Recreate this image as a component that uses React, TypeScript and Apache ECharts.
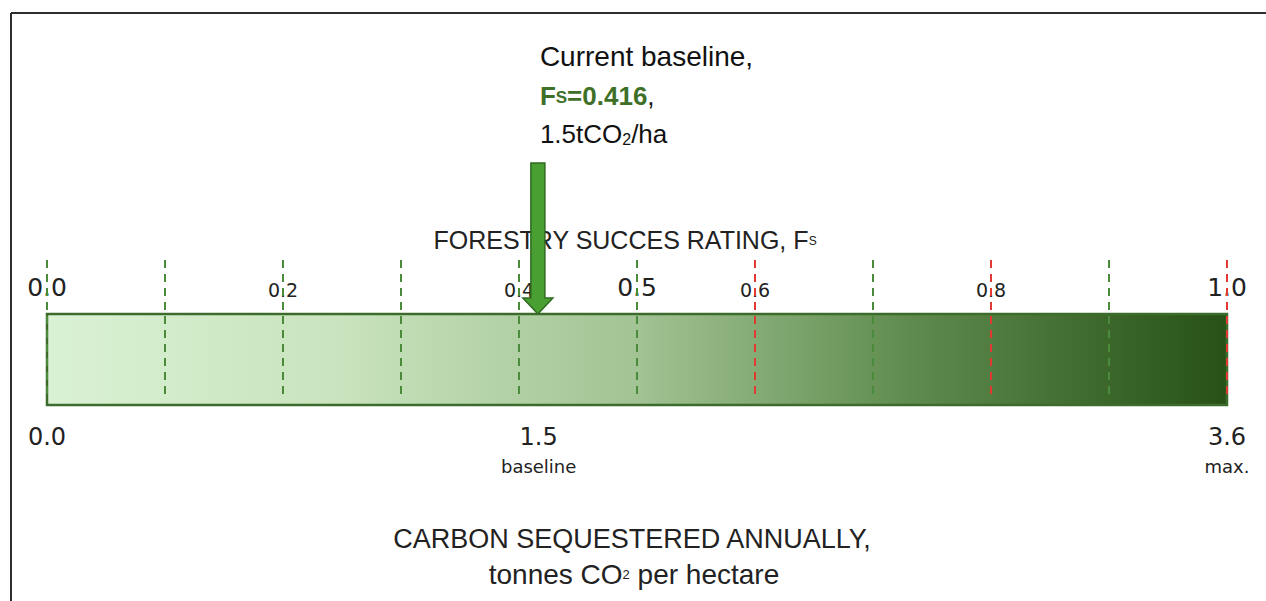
import React, { useEffect, useRef } from "react";
import * as echarts from "echarts";

// ---- data ----
const ratingTicks = [0, 0.1, 0.2, 0.3, 0.4, 0.5, 0.6, 0.7, 0.8, 0.9, 1.0];
const redTicks = [0.6, 0.8, 1.0];
const bigRatingLabels = [0, 0.5, 1.0];
const smallRatingLabels = [0.2, 0.4, 0.6, 0.8];
const ratingMin = 0;
const ratingMax = 1.0;
const carbonTicks = [0, 1.5, 3.6];
const carbonNotes = ["", "baseline", "max."];
const carbonMax = 3.6;
const baselineRating = 0.416;
const baselineCarbon = 1.5;

const near = (a: number, arr: number[]) => arr.some((b) => Math.abs(a - b) < 1e-6);

const NUM_FONT = "DejaVu Sans";
const TXT_FONT = "Liberation Sans, Arial, sans-serif";

export default function App() {
  const ref = useRef<HTMLDivElement>(null);

  useEffect(() => {
    if (!ref.current) return;
    document.body.style.margin = "0";
    document.body.style.overflow = "hidden";
    const chart = echarts.init(ref.current, undefined, { renderer: "svg" });

    const barGradient = new echarts.graphic.LinearGradient(0, 0, 1, 0, [
      { offset: 0, color: "#daf2d4" },
      { offset: 0.25, color: "#c8e3bd" },
      { offset: 0.5, color: "#a2c394" },
      { offset: 0.73, color: "#5f8c4e" },
      { offset: 1, color: "#275116" },
    ]);

    const option: any = {
      animation: false,
      backgroundColor: "#ffffff",
      grid: { left: 47, right: 39, top: 314, bottom: 196, containLabel: false },
      xAxis: [
        {
          type: "value",
          position: "top",
          min: ratingMin,
          max: ratingMax,
          interval: 0.1,
          axisLine: { show: false },
          axisTick: { show: false },
          splitLine: { show: false },
          axisLabel: {
            margin: 14,
            formatter: (v: number) => {
              if (near(v, bigRatingLabels)) return `{big|${v.toFixed(1)}}`;
              if (near(v, smallRatingLabels)) return `{small|${v.toFixed(1)}}`;
              return "";
            },
            rich: {
              big: { fontFamily: NUM_FONT, fontSize: 25, lineHeight: 26, color: "#222" },
              small: { fontFamily: NUM_FONT, fontSize: 19, lineHeight: 20, color: "#222" },
            },
          },
        },
        {
          type: "value",
          position: "bottom",
          min: 0,
          max: carbonMax,
          axisLine: { show: false },
          axisTick: { show: false },
          splitLine: { show: false },
          axisLabel: {
            customValues: carbonTicks,
            margin: 17,
            formatter: (v: number) => {
              const i = carbonTicks.findIndex((t) => Math.abs(t - v) < 1e-6);
              const note = i >= 0 ? carbonNotes[i] : "";
              return note ? `{n|${v.toFixed(1)}}\n{s|${note}}` : `{n|${v.toFixed(1)}}`;
            },
            rich: {
              n: { fontFamily: NUM_FONT, fontSize: 24, lineHeight: 30, color: "#222" },
              s: { fontFamily: NUM_FONT, fontSize: 18, lineHeight: 28, color: "#222" },
            },
          },
        },
      ],
      yAxis: { type: "value", min: 0, max: 1, show: false },
      graphic: [
        { type: "line", shape: { x1: 11, y1: 13, x2: 1266, y2: 13 }, style: { stroke: "#2e2e2e", lineWidth: 2 } },
        { type: "line", shape: { x1: 11, y1: 13, x2: 11, y2: 601 }, style: { stroke: "#2e2e2e", lineWidth: 2 } },
        {
          type: "text",
          x: 625,
          y: 252,
          style: {
            text: "{t|FORESTRY SUCCES RATING, F}{s|S}",
            align: "center",
            verticalAlign: "bottom",
            rich: {
              t: { fontFamily: TXT_FONT, fontSize: 25, lineHeight: 28, fill: "#222", verticalAlign: "bottom" },
              s: { fontFamily: TXT_FONT, fontSize: 12, lineHeight: 14, fill: "#222", verticalAlign: "bottom", padding: [0, 0, 5, 0] },
            },
          },
        },
        {
          type: "text",
          x: 632,
          y: 552,
          style: {
            text: "CARBON SEQUESTERED ANNUALLY,",
            align: "center",
            verticalAlign: "bottom",
            fontFamily: TXT_FONT,
            fontSize: 27,
            fill: "#222",
          },
        },
        {
          type: "text",
          x: 634,
          y: 588,
          style: {
            text: "{t|tonnes CO}{s|2}{t| per hectare}",
            align: "center",
            verticalAlign: "bottom",
            rich: {
              t: { fontFamily: TXT_FONT, fontSize: 28, lineHeight: 32, fill: "#222", verticalAlign: "bottom" },
              s: { fontFamily: TXT_FONT, fontSize: 13, lineHeight: 14, fill: "#222", verticalAlign: "bottom", padding: [0, 0, 7, 0] },
            },
          },
        },
      ],
      series: [
        {
          type: "custom",
          name: "rating bar",
          xAxisIndex: 0,
          yAxisIndex: 0,
          clip: false,
          data: [[ratingMin, ratingMax]],
          renderItem: (params: any, api: any) => {
            const p0 = api.coord([api.value(0), 1]);
            const p1 = api.coord([api.value(1), 0]);
            return {
              type: "rect",
              shape: { x: p0[0], y: p0[1], width: p1[0] - p0[0], height: p1[1] - p0[1] },
              style: { fill: barGradient, stroke: "#3c6b2c", lineWidth: 2.5 },
            };
          },
          z: 1,
        },
        {
          type: "custom",
          name: "rating ticks",
          xAxisIndex: 0,
          yAxisIndex: 0,
          clip: false,
          data: ratingTicks.map((v) => [v]),
          renderItem: (params: any, api: any) => {
            const v = api.value(0);
            const top = api.coord([v, 1]);
            const bot = api.coord([v, 0]);
            const red = near(v, redTicks);
            return {
              type: "line",
              shape: { x1: top[0], y1: top[1] - 54, x2: top[0], y2: bot[1] - 8 },
              style: { stroke: red ? "#e23a32" : "#4b8a3b", lineWidth: 2, lineDash: [8, 6] },
            };
          },
          z: 3,
        },
        {
          type: "custom",
          name: "baseline marker",
          xAxisIndex: 0,
          yAxisIndex: 0,
          clip: false,
          data: [[baselineRating, baselineCarbon]],
          renderItem: (params: any, api: any) => {
            const v = api.value(0);
            const c = api.value(1);
            const tip = api.coord([v, 1]);
            const x = tip[0];
            const ty = tip[1];
            const sw = 7, hw = 15, hh = 16, len = 151;
            const tx = x + 2;
            return {
              type: "group",
              children: [
                {
                  type: "polygon",
                  shape: {
                    points: [
                      [x - sw, ty - len],
                      [x + sw, ty - len],
                      [x + sw, ty - hh],
                      [x + hw, ty - hh],
                      [x, ty],
                      [x - hw, ty - hh],
                      [x - sw, ty - hh],
                    ],
                  },
                  style: { fill: "#4a9f32", stroke: "#2f6a21", lineWidth: 1.5 },
                },
                {
                  type: "text",
                  x: tx,
                  y: ty - 244,
                  style: {
                    text: "Current baseline,",
                    fontFamily: TXT_FONT,
                    fontSize: 28,
                    fill: "#111",
                    align: "left",
                    verticalAlign: "bottom",
                  },
                },
                {
                  type: "text",
                  x: tx,
                  y: ty - 205,
                  style: {
                    text: `{g|F}{gs|S}{g|=${v.toFixed(3)}}{k|,}`,
                    align: "left",
                    verticalAlign: "bottom",
                    rich: {
                      g: { fontFamily: TXT_FONT, fontSize: 26, fontWeight: "bold", lineHeight: 30, fill: "#3f7027", verticalAlign: "bottom" },
                      gs: { fontFamily: TXT_FONT, fontSize: 17, fontWeight: "bold", lineHeight: 18, fill: "#3f7027", verticalAlign: "bottom", padding: [0, 0, 3, 0] },
                      k: { fontFamily: TXT_FONT, fontSize: 26, lineHeight: 30, fill: "#111", verticalAlign: "bottom" },
                    },
                  },
                },
                {
                  type: "text",
                  x: tx,
                  y: ty - 167,
                  style: {
                    text: `{t|${c}tCO}{s|2}{t|/ha}`,
                    align: "left",
                    verticalAlign: "bottom",
                    rich: {
                      t: { fontFamily: TXT_FONT, fontSize: 26, lineHeight: 30, fill: "#111", verticalAlign: "bottom" },
                      s: { fontFamily: TXT_FONT, fontSize: 16, lineHeight: 16, fill: "#111", verticalAlign: "bottom" },
                    },
                  },
                },
              ],
            };
          },
          z: 5,
        },
      ],
    };

    chart.setOption(option);
    return () => chart.dispose();
  }, []);

  return (
    <div
      ref={ref}
      style={{ position: "absolute", left: 0, top: 0, width: 1266, height: 601, background: "#fff" }}
    />
  );
}
